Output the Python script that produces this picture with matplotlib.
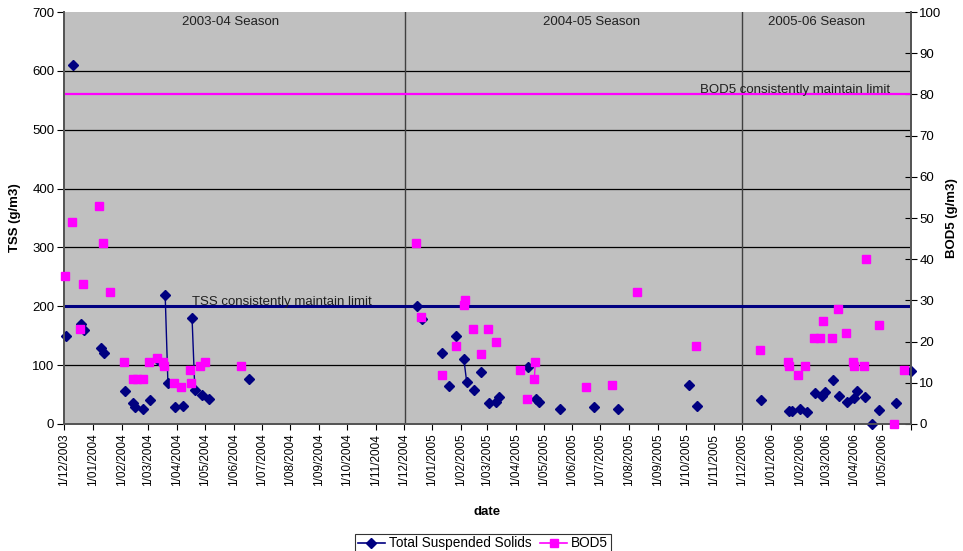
import numpy as np
import pandas as pd
import matplotlib
matplotlib.use("Agg")
import matplotlib.pyplot as plt
import matplotlib.transforms as mtransforms

plt.rcParams['font.family'] = ['Liberation Sans', 'DejaVu Sans']

# --- data --------------------------------------------------------------------
tss_dates = [
    "2003-12-03", "2003-12-11", "2003-12-19", "2003-12-23", "2004-01-10", "2004-01-13",
    "2004-02-05", "2004-02-13", "2004-02-16", "2004-02-24", "2004-03-03", "2004-03-11",
    "2004-03-19", "2004-03-22", "2004-03-30", "2004-04-07", "2004-04-17", "2004-04-20",
    "2004-04-28", "2004-05-05", "2004-06-17",
    "2004-12-15", "2004-12-21", "2005-01-11", "2005-01-19", "2005-01-27", "2005-02-04",
    "2005-02-07", "2005-02-15", "2005-02-23", "2005-03-03", "2005-03-11", "2005-03-14",
    "2005-04-14", "2005-04-23", "2005-04-26", "2005-05-19", "2005-06-24", "2005-07-20",
    "2005-10-05", "2005-10-13",
    "2005-12-21", "2006-01-20", "2006-01-24", "2006-02-01", "2006-02-09", "2006-02-17",
    "2006-02-25", "2006-02-28", "2006-03-09", "2006-03-15", "2006-03-24", "2006-04-01",
    "2006-04-04", "2006-04-12", "2006-04-20", "2006-04-28", "2006-05-16", "2006-06-01",
]
tss_values = [
    150, 610, 170, 160, 130, 120,
    56, 36, 29, 25, 41, 108,
    220, 69, 29, 30, 180, 58,
    49, 42, 76,
    200, 179, 120, 64, 150, 110,
    72, 57, 88, 35, 37, 46,
    97, 42, 37, 25, 29, 26,
    67, 30,
    40, 22, 22, 26, 20, 52,
    47, 54, 74, 47, 37, 44,
    56, 46, 0, 24, 35, 90,
]
# consecutive readings that Excel joined with a line
tss_linked = [("2004-03-19", "2004-03-22"), ("2004-04-17", "2004-04-20"),
              ("2005-02-04", "2005-02-07")]

bod_dates = [
    "2003-12-02", "2003-12-10", "2003-12-18", "2003-12-21", "2004-01-08", "2004-01-12",
    "2004-01-20", "2004-02-04", "2004-02-13", "2004-02-18", "2004-02-24", "2004-03-02",
    "2004-03-10", "2004-03-17", "2004-03-18", "2004-03-29", "2004-04-05", "2004-04-15",
    "2004-04-16", "2004-04-26", "2004-05-01", "2004-06-09",
    "2004-12-14", "2004-12-20", "2005-01-11", "2005-01-27", "2005-02-04", "2005-02-05",
    "2005-02-14", "2005-02-22", "2005-03-02", "2005-03-11", "2005-04-05", "2005-04-13",
    "2005-04-21", "2005-04-22", "2005-06-16", "2005-07-14", "2005-08-10", "2005-10-12",
    "2005-12-20", "2006-01-19", "2006-01-20", "2006-01-30", "2006-02-07", "2006-02-16",
    "2006-02-23", "2006-02-26", "2006-03-08", "2006-03-14", "2006-03-23", "2006-03-31",
    "2006-04-01", "2006-04-11", "2006-04-14", "2006-04-27", "2006-05-14", "2006-05-24",
]
bod_values = [
    36, 49, 23, 34, 53, 44,
    32, 15, 11, 11, 11, 15,
    16, 15, 14, 10, 9, 13,
    10, 14, 15, 14,
    44, 26, 12, 19, 29, 30,
    23, 17, 23, 20, 13, 6,
    11, 15, 9, 9.4, 32, 19,
    18, 15, 14, 12, 14, 21,
    21, 25, 21, 28, 22, 15,
    14, 14, 40, 24, 0, 13,
]
bod_linked = [("2005-04-21", "2005-04-22")]

tss_limit = 200
bod_limit = 80
season_splits = ["2004-12-03", "2005-12-01"]
season_labels = ["2003-04 Season", "2004-05 Season", "2005-06 Season"]
season_label_x = ["2004-05-28", "2005-06-22", "2006-02-19"]

month_ticks = pd.date_range("2003-12-01", "2006-06-01", freq="MS")
month_labels = [f"{d.day}/{d.month:02d}/{d.year}" for d in month_ticks[:-1]] + [""]

# --- plot --------------------------------------------------------------------
NAVY = "#000080"
MAGENTA = "#FF00FF"

tss_x = pd.to_datetime(tss_dates)
bod_x = pd.to_datetime(bod_dates)

fig = plt.figure(figsize=(9.63, 5.51), dpi=100)
ax = fig.add_axes([0.0665, 0.2305, 0.8795, 0.7475])
ax2 = ax.twinx()
ax.set_facecolor("#C0C0C0")
ax2.patch.set_visible(False)

x0, x1 = pd.Timestamp("2003-12-01"), pd.Timestamp("2006-06-01")
ax.set_xlim(x0, x1)
ax.set_ylim(0, 700)
ax2.set_ylim(0, 100)

ax.set_yticks(range(0, 701, 100))
ax2.set_yticks(range(0, 101, 10))
for y in range(100, 700, 100):
    ax.axhline(y, color="black", lw=0.9, zorder=1)

for d in season_splits:
    ax.axvline(pd.Timestamp(d), color="#404040", lw=1.0, zorder=1)

ax.plot([tss_x[0], x1], [tss_limit, tss_limit], color=NAVY, lw=2.2, zorder=2)
ax2.plot([bod_x[0], x1], [bod_limit, bod_limit], color=MAGENTA, lw=1.6, zorder=2)

tss_lookup = dict(zip(tss_dates, tss_values))
for a, b in tss_linked:
    ax.plot(pd.to_datetime([a, b]), [tss_lookup[a], tss_lookup[b]],
            color=NAVY, lw=1.0, zorder=3)
bod_lookup = dict(zip(bod_dates, bod_values))
for a, b in bod_linked:
    ax2.plot(pd.to_datetime([a, b]), [bod_lookup[a], bod_lookup[b]],
             color=MAGENTA, lw=1.0, zorder=3)

ax.plot(tss_x, tss_values, ls="none", marker="D", ms=4.6, color=NAVY,
        mec=NAVY, zorder=4, clip_on=False)
ax2.plot(bod_x, bod_values, ls="none", marker="s", ms=6.2, color=MAGENTA,
         mec=MAGENTA, zorder=4, clip_on=False)

# texts
blend = mtransforms.blended_transform_factory(ax.transData, ax.transAxes)
for lab, xd in zip(season_labels, season_label_x):
    ax.text(pd.Timestamp(xd), 0.976, lab, transform=blend, ha="center",
            va="center", fontsize=9.5, color="#202020")
ax.text(pd.Timestamp("2004-04-17"), 202, "TSS consistently maintain limit",
        ha="left", va="baseline", fontsize=9.5, color="#202020", zorder=5)
ax2.text(pd.Timestamp("2006-05-10"), 80.4, "BOD5 consistently maintain limit",
         ha="right", va="baseline", fontsize=9.5, color="#202020", zorder=5)

# axes styling
ax.set_xticks(month_ticks)
ax.set_xticklabels(month_labels, rotation=90, fontsize=8.5)
ax.tick_params(axis="x", direction="out", length=4, pad=3)
ax.tick_params(axis="y", direction="out", length=5, labelsize=9.5, pad=2)
ax2.tick_params(axis="y", direction="inout", length=8, labelsize=9.5, pad=2)
for a in (ax, ax2):
    a.spines["top"].set_visible(False)
    for s in ("left", "right", "bottom"):
        a.spines[s].set_color("#555555")
        a.spines[s].set_linewidth(1.3)

ax.set_ylabel("TSS (g/m3)", fontsize=9.5, fontweight="bold", labelpad=8)
ax2.set_ylabel("BOD5 (g/m3)", fontsize=9.5, fontweight="bold", labelpad=3,
               rotation=90)
ax.set_xlabel("date", fontsize=9.5, fontweight="bold", labelpad=14)

handles = [
    plt.Line2D([], [], color=NAVY, marker="D", ms=4.6, lw=1.2),
    plt.Line2D([], [], color=MAGENTA, marker="s", ms=6.2, lw=1.2),
]
leg = fig.legend(handles, ["Total Suspended Solids", "BOD5"], ncol=2,
                 loc="center", bbox_to_anchor=(0.5016, 0.014), fontsize=9.8,
                 frameon=True, fancybox=False, edgecolor="black",
                 handlelength=2.0, handletextpad=0.3, columnspacing=0.6,
                 borderpad=0.2)
leg.get_frame().set_linewidth(0.8)

fig.savefig("out.png", dpi=100)
